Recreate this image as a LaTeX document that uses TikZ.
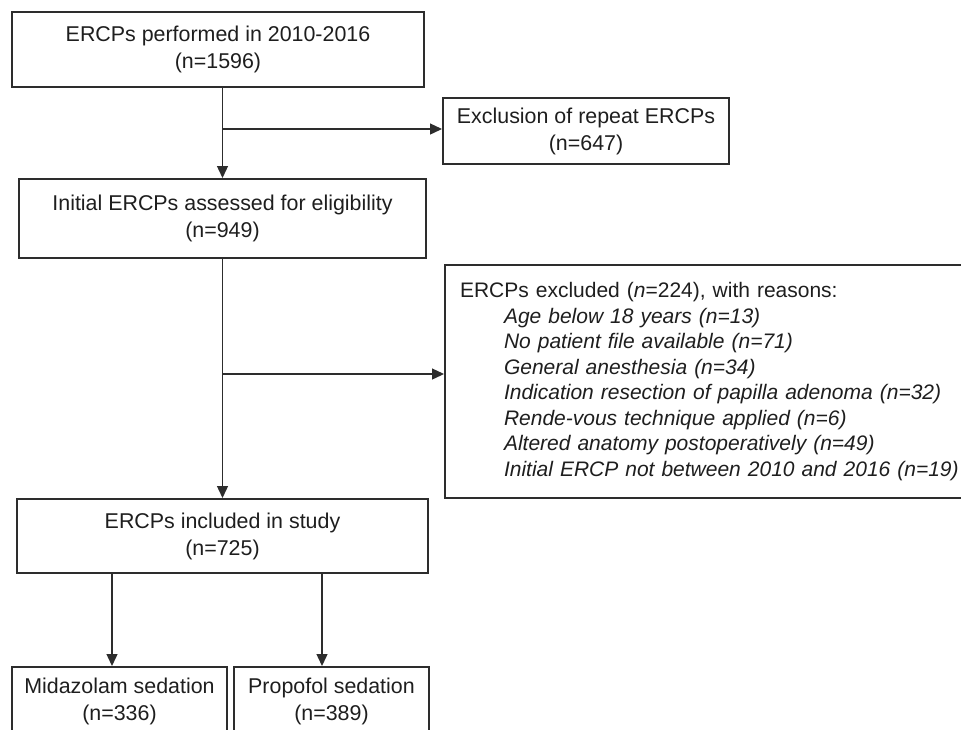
\documentclass[tikz,border=0pt]{standalone}
\usepackage{fontspec}
\setmainfont{Liberation Sans}
\usepackage{tikz}
\usetikzlibrary{arrows.meta,positioning}
\definecolor{linegray}{RGB}{45,45,45}
\definecolor{textgray}{RGB}{30,30,30}

\begin{document}
\begin{tikzpicture}[x=0.5pt, y=-0.5pt, every node/.style={font=\fontsize{10.7}{13.5}\selectfont, text=textgray}]
\tikzset{box/.style={draw=linegray, line width=1pt, align=center, inner sep=3pt},
         arr/.style={draw=linegray, line width=0.65pt, -{Triangle[length=6pt,width=5.5pt]}}}
\useasboundingbox (0,0) rectangle (961,729);
\clip (0,0) rectangle (961,729);
% main column
\node[box, minimum width=206pt, minimum height=37.5pt] (b1) at (218,49.5) {ERCPs performed in 2010-2016\\(n=1596)};
\node[box, minimum width=203.5pt, minimum height=39.5pt] (b2) at (222.5,218.5) {Initial ERCPs assessed for eligibility\\(n=949)};
\node[box, minimum width=205.5pt, minimum height=37pt] (b4) at (222.5,536) {ERCPs included in study\\(n=725)};
\node[box, minimum width=107.5pt, minimum height=34pt] (m1) at (119.5,701) {Midazolam sedation\\(n=336)};
\node[box, minimum width=97.5pt, minimum height=34pt] (p1) at (331.5,701) {Propofol sedation\\(n=389)};
% exclusions
\node[box, minimum width=143pt, minimum height=33pt] (ex1) at (586,131) {Exclusion of repeat ERCPs\\(n=647)};
\node[box, anchor=north west, align=left, text width=250pt, inner xsep=7.5pt, inner ysep=2pt, minimum height=116.5pt,
      font=\fontsize{10.5}{12.75}\selectfont] (ex2) at (444,264)
  {ERCPs excluded (\textit{n}=224), with reasons:\\
   \hspace*{22pt}\textit{Age below 18 years (n=13)}\\
   \hspace*{22pt}\textit{No patient file available (n=71)}\\
   \hspace*{22pt}\textit{General anesthesia (n=34)}\\
   \hspace*{22pt}\textit{Indication resection of papilla adenoma (n=32)}\\
   \hspace*{22pt}\textit{Rende-vous technique applied (n=6)}\\
   \hspace*{22pt}\textit{Altered anatomy postoperatively (n=49)}\\
   \hspace*{22pt}\textit{Initial ERCP not between 2010 and 2016 (n=19)}};
\coordinate (j1) at (222.5,129);
\coordinate (j2) at (222.5,374);
\draw[arr] (b1.south -| b2.north) -- (b2.north);
\draw[arr] (j1) -- (j1 -| ex1.west);
\draw[arr] (b2.south) -- (b4.north);
\draw[arr] (j2) -- (j2 -| ex2.west);
\draw[arr] ([xshift=-3.75pt]m1.north |- b4.south) -- ([xshift=-3.75pt]m1.north);
\draw[arr] ([xshift=-4.75pt]p1.north |- b4.south) -- ([xshift=-4.75pt]p1.north);
\end{tikzpicture}
\end{document}
